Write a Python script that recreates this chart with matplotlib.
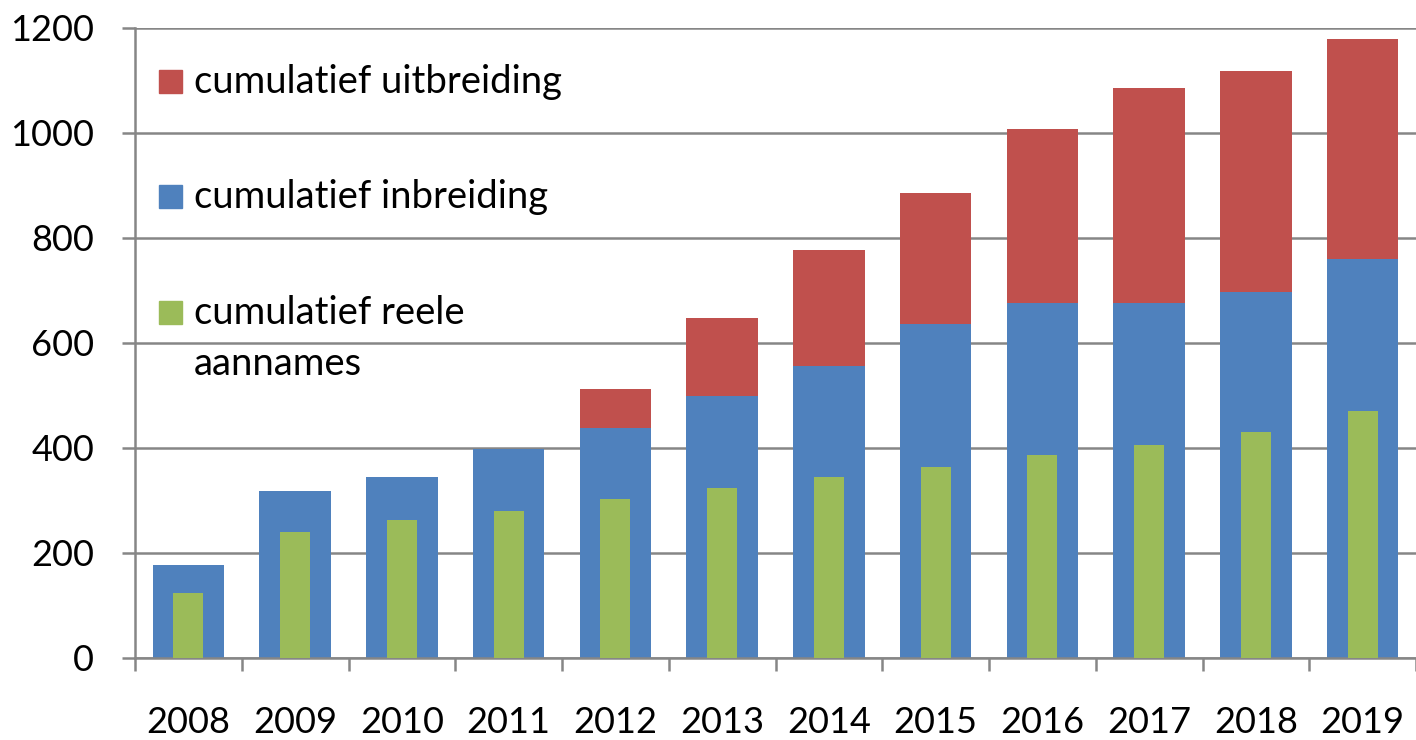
import numpy as np
import matplotlib.pyplot as plt
from matplotlib.patches import Rectangle

plt.rcParams['font.family'] = ['Lato', 'DejaVu Sans']

years = ['2008', '2009', '2010', '2011', '2012', '2013',
         '2014', '2015', '2016', '2017', '2018', '2019']
inbreiding = [176, 318, 343, 397, 437, 498, 556, 636, 675, 675, 697, 760]
uitbreiding = [0, 0, 0, 0, 74, 148, 220, 248, 331, 410, 420, 419]
reele = [123, 240, 261, 280, 301, 322, 343, 362, 385, 405, 429, 470]

labels = ['cumulatief uitbreiding', 'cumulatief inbreiding',
          'cumulatief reele\naannames']
c_red = '#C0504D'
c_blue = '#4F81BD'
c_green = '#9BBB59'
c_grid = '#868686'

fig = plt.figure(figsize=(14.16, 7.4), dpi=100)
ax = fig.add_axes([135/1416, 82.5/740, 1 - 135/1416, (657.5 - 27.5)/740])

x = np.arange(len(years))
ax.bar(x, inbreiding, width=0.67, color=c_blue, zorder=2)
ax.bar(x, uitbreiding, width=0.67, bottom=inbreiding, color=c_red, zorder=2)
ax.bar(x, reele, width=0.28, color=c_green, zorder=3)

ax.set_ylim(0, 1200)
ax.set_yticks(np.arange(0, 1201, 200))
ax.set_xlim(-0.5, 11.39)
ax.set_xticks(np.arange(-0.5, 12, 1))
ax.set_xticklabels([])
ax.set_xticks(x, minor=True)
ax.set_xticklabels(years, minor=True)

ax.yaxis.grid(True, color=c_grid, linewidth=1.8, zorder=1)
ax.set_axisbelow(True)
for s in ['top', 'right']:
    ax.spines[s].set_visible(False)
for s in ['left', 'bottom']:
    ax.spines[s].set_color(c_grid)
    ax.spines[s].set_linewidth(1.8)

ax.tick_params(axis='y', which='major', length=9.5, width=1.8, color=c_grid,
               labelsize=26, pad=20)
ax.tick_params(axis='x', which='major', length=9.5, width=1.8, color=c_grid)
ax.tick_params(axis='x', which='minor', length=0, labelsize=26, pad=35)

# legend, drawn by hand so the two-line entry lines up like the original
W, H = 1416, 740
legend_rows = [(c_red, 93), (c_blue, 208), (c_green, 324)]
for (col, base), lab in zip(legend_rows, labels):
    fig.patches.append(Rectangle((159/W, (H - base)/H), 23/W, 23/H,
                                 transform=fig.transFigure, color=col,
                                 zorder=5))
    for i, line in enumerate(lab.split('\n')):
        fig.text(194/W, (H - base - 51*i)/H, line, fontsize=27.5,
                 va='baseline', ha='left')

fig.savefig('out.png', dpi=100)
